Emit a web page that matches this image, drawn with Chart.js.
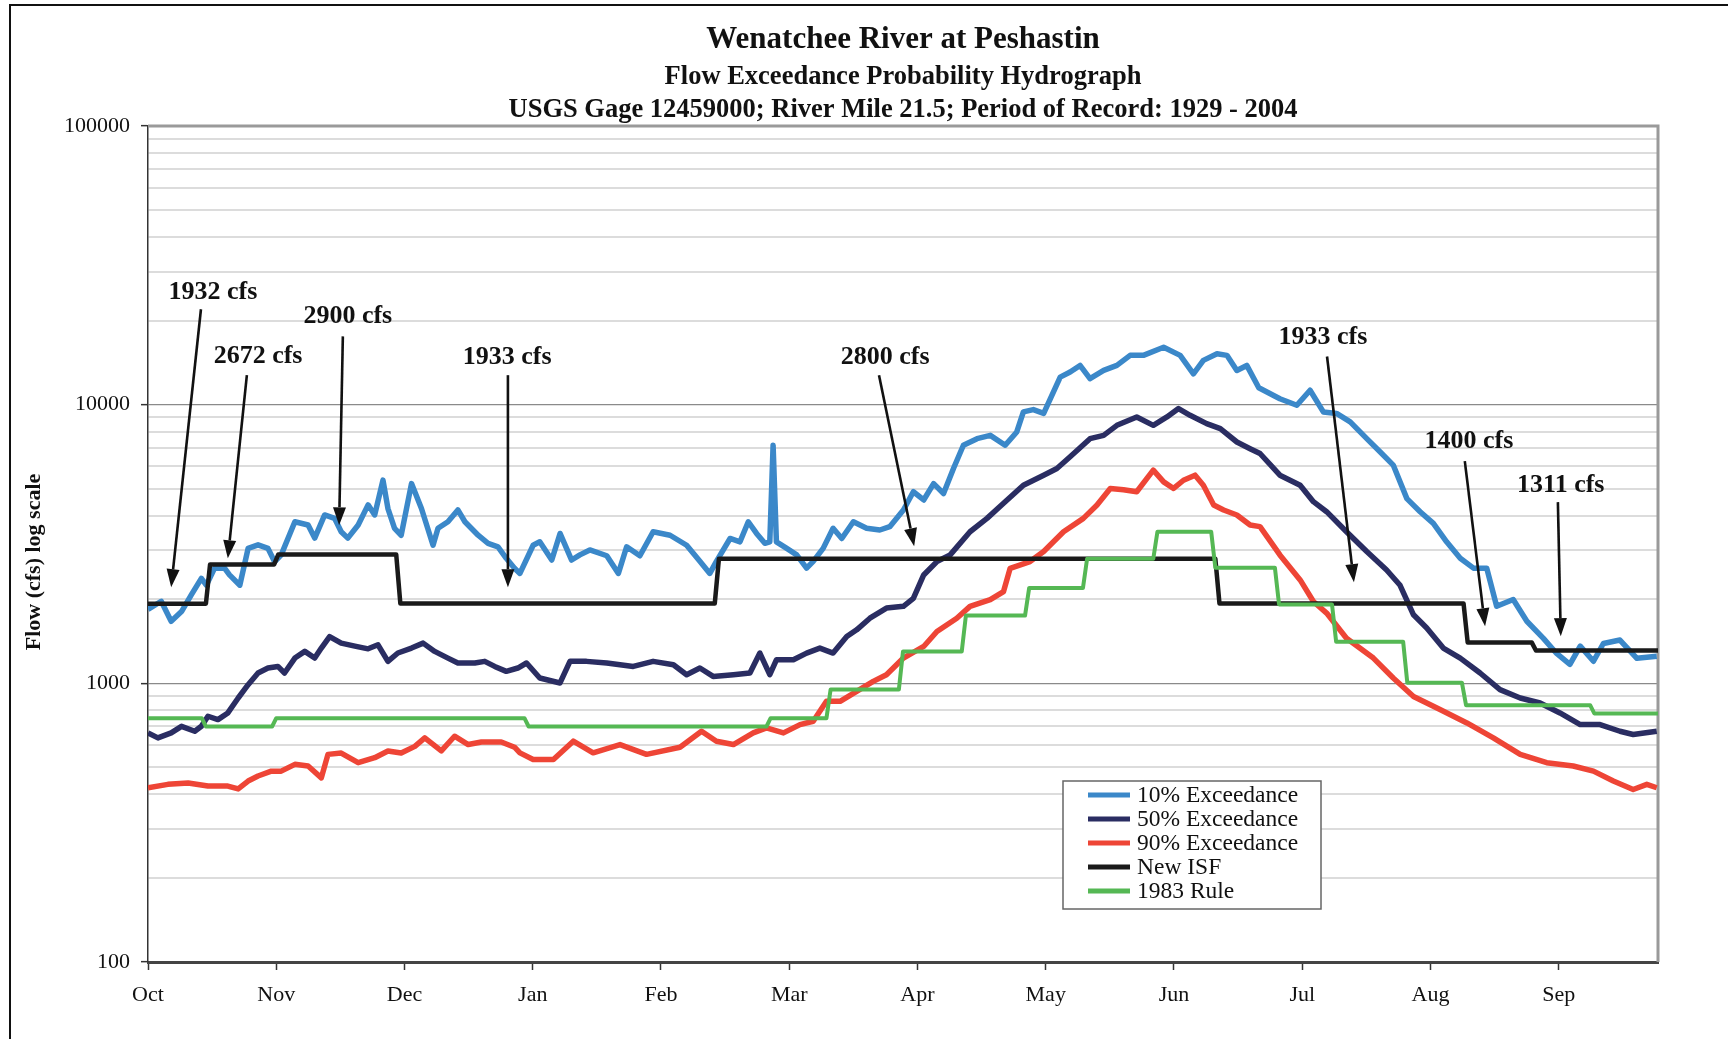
<!DOCTYPE html>
<html>
<head>
<meta charset="utf-8">
<title>Wenatchee River at Peshastin</title>
<script src="https://cdn.jsdelivr.net/npm/chart.js@4.4.1/dist/chart.umd.min.js"></script>
<style>
  html, body { margin: 0; padding: 0; background: #fff; }
  canvas { display: block; }
</style>
</head>
<body>
<canvas id="hydroChart" width="1728" height="1039"></canvas>
<script>
// titles
const titleLines = [
  'Wenatchee River at Peshastin',
  'Flow Exceedance Probability Hydrograph',
  'USGS Gage 12459000; River Mile 21.5; Period of Record: 1929 - 2004'
];
const yTitle = 'Flow (cfs) log scale';

// x axis: day of water year (0 = Oct 1), tick every 31 days
const monthDays = [0, 31, 62, 93, 124, 155, 186, 217, 248, 279, 310, 341];
const monthNames = ['Oct', 'Nov', 'Dec', 'Jan', 'Feb', 'Mar', 'Apr', 'May', 'Jun', 'Jul', 'Aug', 'Sep'];

// y axis (log)
const flowDecades = [100, 1000, 10000, 100000];
const flowMinor = [2, 3, 4, 5, 6, 7, 8, 9];

// 10% exceedance
const q10Day = [0, 3.2, 5.6, 8.1, 10.5, 12.9, 14.1, 16.1, 18.5, 19.7, 22.2, 24.2, 26.6, 29, 30.6, 32.2, 35.5, 38.7, 40.3, 42.7,
  45.1, 46.7, 48.3, 50.8, 53.2, 54.8, 56.8, 58, 59.6, 61.2, 63.7, 66.1, 68.9, 70.1, 72.5, 74.9, 76.6, 79.8, 82.2, 84.6,
  86.6, 88.6, 89.9, 93.1, 94.7, 97.6, 99.6, 102.4, 104.4, 106.8, 110.9, 113.7, 115.7, 118.9, 122.1, 126.2, 130.2, 133.4, 135.8, 137.4,
  140.7, 143.1, 145.1, 147.1, 149.1, 150.3, 151.1, 151.9, 154.4, 156.8, 159.2, 160.8, 163.2, 165.6, 167.7, 170.5, 173.7, 176.9, 179.3, 182.6,
  185, 187.5, 189.9, 192.3, 194.7, 197.1, 200.4, 203.6, 207.2, 210, 211.6, 214, 216.5, 218.1, 220.5, 222.9, 225.3, 227.7, 231, 234.2,
  237.4, 240.6, 245.5, 249.5, 252.7, 255.1, 258.4, 260.8, 263.2, 265.6, 268.5, 273.6, 277.7, 280.9, 284.1, 287.3, 290.6, 294.6, 297.8, 301,
  304.3, 307.5, 310.7, 313.9, 317.2, 320.4, 323.6, 326, 330, 333.3, 337.3, 340.5, 343.7, 346.2, 349.4, 351.8, 355.8, 359.9, 364.7];
const q10Flow = [1840, 1970, 1670, 1810, 2080, 2380, 2250, 2590, 2590, 2450, 2250, 3050, 3140, 3050, 2730, 2890, 3800, 3700, 3320, 4020,
  3910, 3500, 3320, 3700, 4370, 4020, 5360, 4240, 3600, 3400, 5210, 4240, 3130, 3600, 3800, 4190, 3800, 3400, 3180, 3090,
  2810, 2590, 2480, 3130, 3220, 2770, 3450, 2770, 2890, 3010, 2870, 2480, 3090, 2870, 3500, 3400, 3130, 2740, 2480, 2740,
  3310, 3220, 3800, 3450, 3180, 3220, 7150, 3220, 3050, 2890, 2590, 2740, 3050, 3600, 3310, 3800, 3600, 3550, 3650, 4190,
  4870, 4550, 5210, 4800, 5900, 7150, 7550, 7760, 7150, 7980, 9420, 9600, 9300, 10500, 12560, 13090, 13830, 12400, 13270, 13830,
  15030, 15030, 16070, 15030, 12900, 14420, 15240, 15030, 13270, 13830, 11500, 10500, 9950, 11270, 9420, 9300, 8670, 7550, 6780, 6070,
  4600, 4130, 3750, 3220, 2810, 2590, 2590, 1890, 2000, 1670, 1450, 1280, 1170, 1360, 1200, 1390, 1430, 1230, 1250];

// 50% exceedance
const q50Day = [0, 2.4, 5.6, 8.1, 11.3, 12.9, 14.5, 16.9, 19.3, 21.8, 24.2, 26.6, 29, 31.4, 33, 35.5, 37.9, 40.3, 41.9, 43.9,
  46.7, 50, 53.2, 55.6, 58, 60.4, 63.7, 66.5, 69.3, 72.5, 74.9, 79, 81.4, 83.8, 86.6, 89.4, 91.5, 94.7, 99.6, 102,
  106, 110.9, 117.3, 122.1, 127, 130.2, 133.4, 136.6, 141.5, 145.5, 147.9, 150.3, 151.9, 156, 159.2, 162.4, 165.6, 168.9, 171.3, 174.5,
  178.5, 182.6, 185, 187.5, 190.7, 193.9, 198.7, 202.8, 206.8, 211.6, 216.5, 219.7, 222.9, 227.7, 231, 234.2, 239, 243, 246.3, 249.1,
  251.9, 255.9, 259.2, 263.2, 266.4, 268.8, 273.6, 278.5, 281.7, 284.9, 289.7, 294.6, 299.4, 302.6, 305.9, 309.1, 313.1, 317.2, 322, 326.8,
  331.7, 336.5, 341.3, 346.2, 351, 355.8, 359, 364.7];
const q50Flow = [664, 637, 664, 701, 673, 701, 762, 741, 783, 886, 989, 1089, 1135, 1150, 1089, 1232, 1302, 1232, 1338, 1472,
  1394, 1360, 1330, 1375, 1199, 1285, 1338, 1394, 1302, 1232, 1183, 1183, 1199, 1150, 1104, 1135, 1183, 1045, 1003, 1199,
  1199, 1183, 1150, 1199, 1166, 1074, 1135, 1059, 1074, 1089, 1284, 1074, 1215, 1215, 1284, 1338, 1284, 1472, 1556, 1713,
  1862, 1890, 2018, 2448, 2735, 2890, 3500, 3908, 4426, 5140, 5584, 5900, 6500, 7550, 7762, 8430, 9035, 8430, 9035, 9680,
  9160, 8550, 8200, 7345, 6950, 6680, 5585, 5140, 4487, 4130, 3500, 2971, 2552, 2254, 1762, 1579, 1338, 1232, 1089, 949,
  886, 850, 783, 711, 711, 673, 655, 673];

// 90% exceedance
const q90Day = [0, 4.8, 9.7, 14.5, 19.3, 21.8, 24.2, 26.6, 29.8, 32.2, 35.5, 38.7, 41.9, 43.5, 46.7, 50.8, 54.8, 58, 61.2, 64.5,
  66.9, 70.9, 74.1, 77.4, 80.6, 85.4, 88.6, 89.9, 93.1, 98, 102.8, 107.6, 114.1, 120.5, 128.6, 133.8, 137.4, 141.5, 146.3, 149.5,
  153.6, 157.6, 160.8, 164, 167.3, 171.3, 175.3, 178.5, 182.6, 187.5, 190.7, 195.5, 198.7, 203.6, 206.8, 208.4, 213.2, 216.5, 221.3, 226.1,
  229.4, 232.6, 235.8, 239, 243, 245.5, 247.9, 250.3, 253.1, 255.1, 257.6, 260, 263.2, 266.4, 268.8, 273.6, 278.5, 281.7, 284.9, 289.7,
  296.2, 301, 305.9, 312.3, 318.8, 325.2, 331.7, 338.1, 344.5, 349.4, 354.2, 359, 362.3, 364.7];
const q90Flow = [422, 434, 439, 428, 428, 418, 446, 465, 484, 484, 512, 505, 458, 556, 562, 519, 541, 572, 562, 594,
  637, 572, 646, 603, 616, 616, 590, 563, 533, 533, 620, 563, 603, 556, 590, 673, 620, 603, 664, 692,
  664, 711, 731, 862, 862, 936, 1016, 1074, 1232, 1356, 1535, 1713, 1888, 1996, 2135, 2587, 2735, 2971, 3500, 3908,
  4365, 5003, 4950, 4870, 5820, 5285, 5003, 5355, 5585, 5140, 4365, 4188, 4020, 3700, 3650, 2890, 2350, 1966, 1787, 1452,
  1232, 1045, 897, 805, 721, 637, 556, 519, 505, 484, 446, 416, 434, 422];

// New ISF (instream flow) steps
const isfDay = [0, 14, 15, 30.5, 31.5, 60, 61, 137, 138, 258, 259, 318, 319, 334.5, 335.5, 365];
const isfFlow = [1932, 1932, 2672, 2672, 2900, 2900, 1933, 1933, 2800, 2800, 1933, 1933, 1400, 1400, 1311, 1311];

// 1983 Rule steps
const ruleDay = [0, 13, 14, 30, 31, 91, 92, 149.5, 150.5, 164, 165, 181.5, 182.5, 196.7, 197.7, 212, 213, 226, 227, 243,
  244, 257, 258, 272.4, 273.4, 286.2, 287.2, 303.4, 304.4, 317.6, 318.6, 348.6, 349.6, 365];
const ruleFlow = [750, 750, 700, 700, 750, 750, 700, 700, 750, 750, 950, 950, 1300, 1300, 1750, 1750, 2200, 2200, 2800, 2800,
  3500, 3500, 2600, 2600, 1920, 1920, 1410, 1410, 1005, 1005, 835, 835, 780, 780];

// arrow annotations (day, flow)
const annotText = ['1932 cfs', '2672 cfs', '2900 cfs', '1933 cfs', '2800 cfs', '1933 cfs', '1400 cfs', '1311 cfs'];
const annotTextDay = [15.7, 26.6, 48.3, 86.8, 178.2, 284.0, 319.3, 341.5];
const annotTextFlow = [25300, 14930, 20750, 14830, 14830, 17380, 7400, 5140];
const annotFromDay = [12.8, 23.9, 47.1, 87.0, 176.7, 285.0, 318.3, 340.8];
const annotFromFlow = [22000, 12760, 17580, 12760, 12760, 14890, 6270, 4470];
const annotToDay = [5.6, 19.3, 46.2, 87.0, 185.2, 291.5, 323.2, 341.5];
const annotToFlow = [2213, 2812, 3690, 2213, 3105, 2307, 1603, 1476];

const seriesNames = ['10% Exceedance', '50% Exceedance', '90% Exceedance', 'New ISF', '1983 Rule'];
const seriesColors = ['#3b88c9', '#2a2d62', '#ee4536', '#1a1a1a', '#55b854'];

const SERIF = "'Liberation Serif', 'Times New Roman', serif";

function pts(days, flows) {
  return days.map((d, i) => ({ x: d, y: flows[i] }));
}

const yTickValues = [];
flowDecades.forEach(dec => {
  yTickValues.push(dec);
  if (dec < 100000) flowMinor.forEach(m => yTickValues.push(m * dec));
});

const pageDecor = {
  id: 'pageDecor',
  beforeDraw(chart) {
    const c = chart.ctx;
    c.save();
    c.fillStyle = '#fff';
    c.fillRect(0, 0, chart.width, chart.height);
    // outer frame (top and left)
    c.strokeStyle = '#111';
    c.lineWidth = 2;
    c.beginPath();
    c.moveTo(10, chart.height);
    c.lineTo(10, 5);
    c.lineTo(chart.width, 5);
    c.stroke();
    c.restore();
  },
  beforeDatasetsDraw(chart) {
    const a = chart.chartArea, c = chart.ctx;
    c.save();
    c.strokeStyle = '#9a9a9a';
    c.lineWidth = 3;
    c.beginPath();
    c.moveTo(a.left, a.top);
    c.lineTo(a.right, a.top);
    c.lineTo(a.right, a.bottom);
    c.stroke();
    c.restore();
  },
  afterDraw(chart) {
    const a = chart.chartArea, c = chart.ctx;
    const cx = (a.left + a.right) / 2;
    c.save();
    c.fillStyle = '#111';
    c.textAlign = 'center';
    c.textBaseline = 'middle';
    c.font = 'bold 31px ' + SERIF;
    c.fillText(titleLines[0], cx, 40);
    c.font = 'bold 26.5px ' + SERIF;
    c.fillText(titleLines[1], cx, 77);
    c.fillText(titleLines[2], cx, 110);
    // y axis title
    c.translate(34, (a.top + a.bottom) / 2 + 18);
    c.rotate(-Math.PI / 2);
    c.font = 'bold 22px ' + SERIF;
    c.fillText(yTitle, 0, 0);
    c.restore();
  }
};

const arrowNotes = {
  id: 'arrowNotes',
  afterDatasetsDraw(chart) {
    const xs = chart.scales.x, ys = chart.scales.y, c = chart.ctx;
    c.save();
    c.fillStyle = '#111';
    c.strokeStyle = '#111';
    c.textAlign = 'center';
    c.textBaseline = 'middle';
    c.font = 'bold 26px ' + SERIF;
    annotText.forEach((t, i) => {
      const tx = xs.getPixelForValue(annotTextDay[i]), ty = ys.getPixelForValue(annotTextFlow[i]);
      c.fillText(t, tx, ty);
      const x1 = xs.getPixelForValue(annotFromDay[i]), y1 = ys.getPixelForValue(annotFromFlow[i]);
      const x2 = xs.getPixelForValue(annotToDay[i]), y2 = ys.getPixelForValue(annotToFlow[i]);
      const ang = Math.atan2(y2 - y1, x2 - x1);
      const headLen = 18, headW = 6.5;
      const bx = x2 - headLen * Math.cos(ang), by = y2 - headLen * Math.sin(ang);
      c.lineWidth = 2.6;
      c.beginPath();
      c.moveTo(x1, y1);
      c.lineTo(bx, by);
      c.stroke();
      c.beginPath();
      c.moveTo(x2, y2);
      c.lineTo(bx + headW * Math.sin(ang), by - headW * Math.cos(ang));
      c.lineTo(bx - headW * Math.sin(ang), by + headW * Math.cos(ang));
      c.closePath();
      c.fill();
    });
    c.restore();
  }
};

const boxLegend = {
  id: 'boxLegend',
  afterDraw(chart) {
    const c = chart.ctx;
    const left = 1063, top = 781, w = 258, h = 128;
    c.save();
    c.fillStyle = '#fff';
    c.fillRect(left, top, w, h);
    c.strokeStyle = '#666';
    c.lineWidth = 1.5;
    c.strokeRect(left, top, w, h);
    c.font = '23.5px ' + SERIF;
    c.textBaseline = 'middle';
    c.textAlign = 'left';
    chart.data.datasets.forEach((ds, i) => {
      const y = top + 14 + i * 24;
      c.strokeStyle = ds.borderColor;
      c.lineWidth = 5;
      c.beginPath();
      c.moveTo(left + 25, y);
      c.lineTo(left + 67, y);
      c.stroke();
      c.fillStyle = '#111';
      c.fillText(ds.label, left + 74, y + 1);
    });
    c.restore();
  }
};

const seriesDays = [q10Day, q50Day, q90Day, isfDay, ruleDay];
const seriesFlows = [q10Flow, q50Flow, q90Flow, isfFlow, ruleFlow];
const seriesWidths = [5.5, 5.5, 5.5, 4.5, 4];
const seriesOrder = [4, 3, 2, 1, 0];

const datasets = seriesNames.map((name, i) => ({
  label: name,
  data: pts(seriesDays[i], seriesFlows[i]),
  borderColor: seriesColors[i],
  backgroundColor: seriesColors[i],
  borderWidth: seriesWidths[i],
  pointRadius: 0,
  tension: 0,
  fill: false,
  order: seriesOrder[i],
  borderJoinStyle: 'round'
}));

new Chart(document.getElementById('hydroChart'), {
  type: 'line',
  data: { datasets },
  options: {
    responsive: false,
    animation: false,
    devicePixelRatio: 1,
    layout: { padding: { top: 126, right: 70, left: 0, bottom: 0 } },
    plugins: {
      legend: { display: false },
      tooltip: { enabled: false }
    },
    scales: {
      x: {
        type: 'linear',
        min: 0,
        max: 365,
        afterBuildTicks: s => { s.ticks = monthDays.map(v => ({ value: v })); },
        afterFit: s => { s.height = 77; },
        ticks: {
          autoSkip: false,
          maxRotation: 0,
          padding: 12,
          color: '#111',
          font: { family: SERIF, size: 22 },
          callback: (v, i) => monthNames[i]
        },
        grid: { drawOnChartArea: false, tickLength: 8, tickColor: '#333', tickWidth: 1.5 },
        border: { color: '#444', width: 3 }
      },
      y: {
        type: 'logarithmic',
        min: 100,
        max: 100000,
        afterBuildTicks: s => { s.ticks = yTickValues.map(v => ({ value: v })); },
        afterFit: s => { s.width = 148; },
        ticks: {
          autoSkip: false,
          padding: 11,
          color: '#111',
          font: { family: SERIF, size: 22 },
          callback: v => flowDecades.includes(v) ? String(v) : ''
        },
        grid: {
          tickLength: 7,
          color: ctx => flowDecades.includes(ctx.tick && ctx.tick.value) ? '#8a8a8a' : '#dcdcdc',
          lineWidth: ctx => flowDecades.includes(ctx.tick && ctx.tick.value) ? 1.3 : 2,
          tickColor: ctx => flowDecades.includes(ctx.tick && ctx.tick.value) ? '#333' : 'rgba(0,0,0,0)',
          tickWidth: 1.5
        },
        border: { color: '#333', width: 1.5 }
      }
    }
  },
  plugins: [pageDecor, arrowNotes, boxLegend]
});
</script>
</body>
</html>
